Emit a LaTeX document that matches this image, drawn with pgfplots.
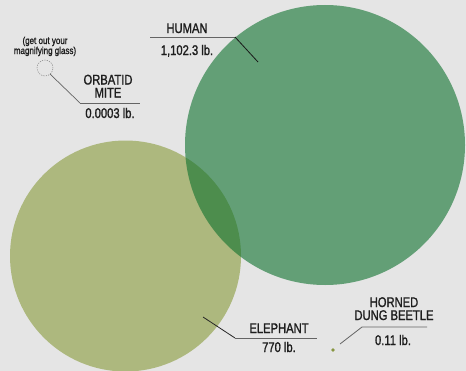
\documentclass[border=0pt]{standalone}
\usepackage{pgfplots}
\pgfplotsset{compat=1.18}
\usepackage{fontspec}
\setmainfont[FakeStretch=0.8, FakeBold=1.3]{Liberation Sans}
\definecolor{bg}{RGB}{229,229,229}
\definecolor{humanc}{RGB}{13,113,45}
\definecolor{eleph}{RGB}{173,184,126}
\definecolor{beetle}{RGB}{135,150,65}
\definecolor{txt}{RGB}{30,30,30}
\definecolor{lead}{RGB}{100,100,100}
\tikzset{lbl/.style={font=\fontsize{14bp}{14bp}\selectfont, text=txt, anchor=base, inner sep=0pt},
  sm/.style={font=\fontsize{10bp}{9bp}\selectfont, text=txt, anchor=base, inner sep=0pt}}
\begin{document}
\begin{tikzpicture}
\useasboundingbox (0,0) rectangle (466bp,371bp);
\fill[bg] (0,0) rectangle (466bp,371bp);
\begin{axis}[width=466bp,height=371bp,scale only axis,
  xmin=0,xmax=466,ymin=0,ymax=371,y dir=reverse,hide axis,
  clip=true, clip marker paths=true]
% elephant: 770 lb
\addplot[only marks, mark=*, color=eleph, mark size=115.5bp, mark options={draw opacity=0, fill=eleph}] coordinates {(125.5,256)};
% human: 1102.3 lb
\addplot[only marks, mark=*, color=humanc, mark size=140bp, mark options={draw opacity=0, fill=humanc, fill opacity=0.6}] coordinates {(325,145)};
% horned dung beetle: 0.11 lb
\addplot[only marks, mark=*, color=beetle, mark size=1.8bp, mark options={draw opacity=0, fill=beetle}] coordinates {(333,350)};
% orbatid mite (magnifying glass circle)
\addplot[only marks, mark=o, color=gray, mark size=8bp, mark options={draw=gray, line width=0.5pt, dash pattern=on 1.2pt off 1.2pt}] coordinates {(45,68)};

% leaders
\draw[lead, line width=0.9pt] (axis cs:150,37) -- (axis cs:235,37);
\draw[black!90, line width=0.8pt] (axis cs:235,37) -- (axis cs:258,62);
\draw[lead, line width=0.7pt] (axis cs:50,74) -- (axis cs:80,103);
\draw[lead, line width=0.9pt] (axis cs:80,103) -- (axis cs:140,103);
\draw[black!85, line width=0.8pt] (axis cs:203,317) -- (axis cs:235,338);
\draw[lead, line width=0.9pt] (axis cs:235,338) -- (axis cs:317,338);
\draw[lead, line width=0.8pt] (axis cs:340,344) -- (axis cs:362,327) -- (axis cs:427,327);

% labels
\node[lbl] at (axis cs:187,33) {HUMAN};
\node[lbl] at (axis cs:187,55) {1,102.3 lb.};
\node[lbl] at (axis cs:108,84.5) {ORBATID};
\node[lbl] at (axis cs:108,97.5) {MITE};
\node[lbl] at (axis cs:110,118) {0.0003 lb.};
\node[sm] at (axis cs:45,44) {(get out your};
\node[sm] at (axis cs:45,54) {magnifying glass)};
\node[lbl] at (axis cs:279,333) {ELEPHANT};
\node[lbl] at (axis cs:279,352) {770 lb.};
\node[lbl] at (axis cs:394,307) {HORNED};
\node[lbl] at (axis cs:394,320) {DUNG BEETLE};
\node[lbl] at (axis cs:393,345) {0.11 lb.};
\end{axis}
\end{tikzpicture}
\end{document}
